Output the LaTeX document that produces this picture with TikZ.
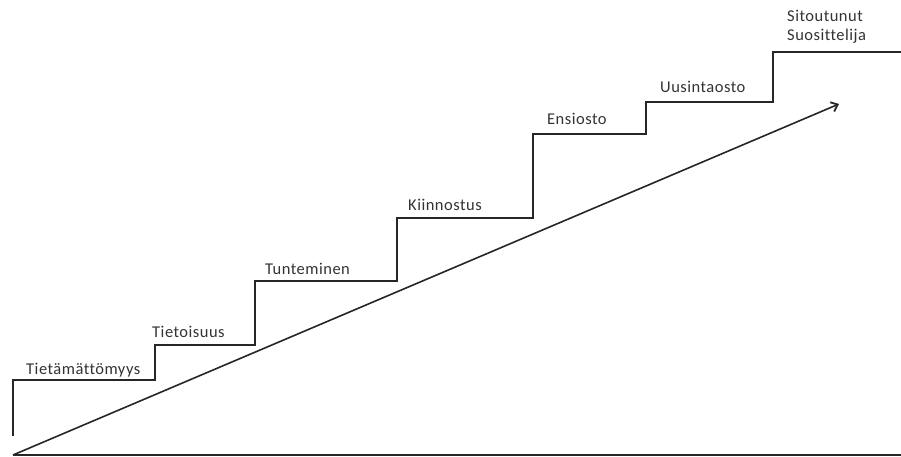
\documentclass[tikz,border=0pt]{standalone}
\usepackage{fontspec}
\setmainfont{Carlito}[LetterSpace=3,Ligatures=NoCommon]
\usetikzlibrary{arrows.meta}
\begin{document}
\begin{tikzpicture}
    [x=1pt,y=-1pt,
     stair/.style={draw=black!85,line width=1.6pt,line join=miter},
     steplabel/.style={anchor=base west,inner sep=0pt,font=\fontsize{16.5}{19}\selectfont,text=black!80,align=left},
     post/.style={->,>={Straight Barb[length=6pt,width=10pt,line width=1.8pt]},line width=1.6pt,draw=black!85}]
    \useasboundingbox (0,0) rectangle (901,457);
    % stair corners
    \coordinate (s0) at (13,436);
    \coordinate (s1) at (13,380);
    \coordinate (s2) at (155,380);
    \coordinate (s3) at (155,345);
    \coordinate (s4) at (255,345);
    \coordinate (s5) at (255,281);
    \coordinate (s6) at (397,281);
    \coordinate (s7) at (397,218);
    \coordinate (s8) at (533,218);
    \coordinate (s9) at (533,134);
    \coordinate (s10) at (646,134);
    \coordinate (s11) at (646,102);
    \coordinate (s12) at (773,102);
    \coordinate (s13) at (773,52);
    \coordinate (s14) at (901,52);
    \draw [stair] (s0) -- (s1) -- (s2) -- (s3) -- (s4) -- (s5) -- (s6) -- (s7)
      -- (s8) -- (s9) -- (s10) -- (s11) -- (s12) -- (s13) -- (s14);
    % ground and growth arrow
    \coordinate (o) at (13,455);
    \coordinate (e) at (901,455);
    \coordinate (tip) at (839,104);
    \draw [stair] (o) -- (e);
    \draw [post] (o) -- (tip);
    % labels
    \node [steplabel] (l1) at (26,374) {Tietämättömyys};
    \node [steplabel] (l2) at (152,337) {Tietoisuus};
    \node [steplabel] (l3) at (265,274) {Tunteminen};
    \node [steplabel] (l4) at (408,210) {Kiinnostus};
    \node [steplabel] (l5) at (547,125) {Ensiosto};
    \node [steplabel] (l6) at (660,93) {Uusintaosto};
    \node [steplabel] (l7) at (787,41) {Sitoutunut\\Suosittelija};
  \end{tikzpicture}
\end{document}
